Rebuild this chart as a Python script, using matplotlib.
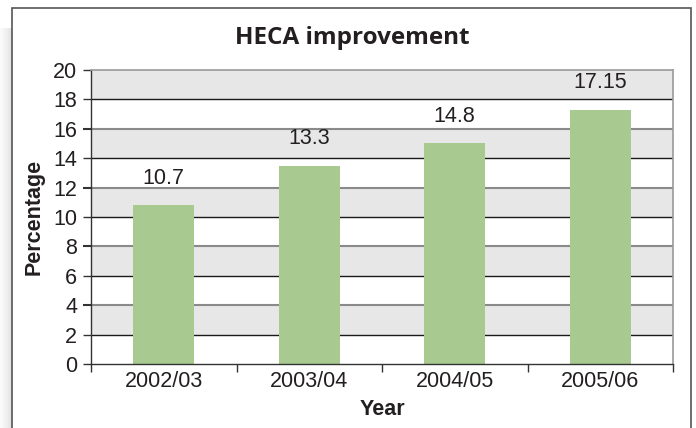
import matplotlib

matplotlib.use("Agg")

import matplotlib.pyplot as plt
from matplotlib.patches import Rectangle

# chart data
years = ["2002/03", "2003/04", "2004/05", "2005/06"]
bar_heights = [10.8, 13.5, 15.0, 17.3]
value_labels = ["10.7", "13.3", "14.8", "17.15"]
y_ticks = [0, 2, 4, 6, 8, 10, 12, 14, 16, 18, 20]

BAR_COLOR = "#a8c990"
STRIPE_COLOR = "#e6e7e6"
TEXT_COLOR = "#231f20"
DARK_LINE = "#1a1a1a"
GREY_LINE = "#8a8a8a"
FONT_SIZE = 15.5

plt.rcParams["font.family"] = ["Liberation Sans", "DejaVu Sans"]

fig = plt.figure(figsize=(6.96, 4.28), dpi=100)
fig.patch.set_facecolor("white")

# soft shadow on the left of the frame
for i, alpha in enumerate([0.04, 0.07, 0.1, 0.14, 0.18, 0.22]):
    fig.add_artist(Rectangle((i * 2 / 696, 0), 2 / 696, 1 - 28 / 428,
                             transform=fig.transFigure, facecolor="#888888",
                             edgecolor="none", alpha=alpha, zorder=0))

# outer frame
fig.add_artist(Rectangle((12 / 696, -0.02), 679 / 696, 1.02 - 8 / 428,
                         transform=fig.transFigure, facecolor="white",
                         edgecolor="#555555", linewidth=1.2, zorder=0.5))

ax = fig.add_axes([91 / 696, 64 / 428, 582 / 696, 294 / 428])
ax.set_facecolor("white")
ax.set_zorder(1)

# alternating bands and gridlines
for lo in y_ticks[1:-1:2]:
    ax.axhspan(lo, lo + 2, color=STRIPE_COLOR, zorder=0, linewidth=0)
for i, val in enumerate(y_ticks[1:-1]):
    if i % 2 == 0:
        ax.axhline(val, color=DARK_LINE, linewidth=1.0, zorder=1)
    else:
        ax.axhline(val, color=GREY_LINE, linewidth=1.5, zorder=1)

x = range(len(years))
bars = ax.bar(x, bar_heights, width=0.42, color=BAR_COLOR, zorder=2)
for rect, text in zip(bars, value_labels):
    ax.annotate(text, (rect.get_x() + rect.get_width() / 2, rect.get_height()),
                xytext=(0, 12), textcoords="offset points", ha="center",
                va="bottom", fontsize=FONT_SIZE, color=TEXT_COLOR)

ax.set_xlim(-0.5, len(years) - 0.5)
ax.set_ylim(0, 20)
ax.set_yticks(y_ticks)
ax.set_xticks(list(x), labels=years)
ax.set_xticks([i - 0.5 for i in range(len(years) + 1)], minor=True)

ax.tick_params(axis="y", direction="out", length=6, width=1.0, color="#333333",
               labelsize=FONT_SIZE, labelcolor=TEXT_COLOR, pad=4)
ax.tick_params(axis="x", which="major", length=0, labelsize=FONT_SIZE,
               labelcolor=TEXT_COLOR, pad=5)
ax.tick_params(axis="x", which="minor", direction="out", length=6, width=1.0,
               color="#333333")

# tick marks follow the colour of their gridline
for i, tick in enumerate(ax.yaxis.get_major_ticks()):
    if 0 < i < len(y_ticks) - 1 and i % 2 == 0:
        tick.tick1line.set_color(GREY_LINE)
        tick.tick1line.set_markeredgewidth(1.5)

for side in ("left", "bottom"):
    ax.spines[side].set_color("#333333")
    ax.spines[side].set_linewidth(1.0)
for side in ("top", "right"):
    ax.spines[side].set_color("#9a9a9a")
    ax.spines[side].set_linewidth(1.2)

ax.set_xlabel("Year", fontsize=FONT_SIZE, fontweight="bold", color=TEXT_COLOR, labelpad=5)
ax.set_ylabel("Percentage", fontsize=FONT_SIZE, fontweight="bold", color=TEXT_COLOR, labelpad=6)

fig.text(352 / 696, 1 - 38 / 428, "HECA improvement", ha="center", va="center",
         fontsize=17.5, fontweight="bold", color=TEXT_COLOR,
         family=["Open Sans", "DejaVu Sans"])

fig.savefig("out.png", dpi=100)
plt.close(fig)
